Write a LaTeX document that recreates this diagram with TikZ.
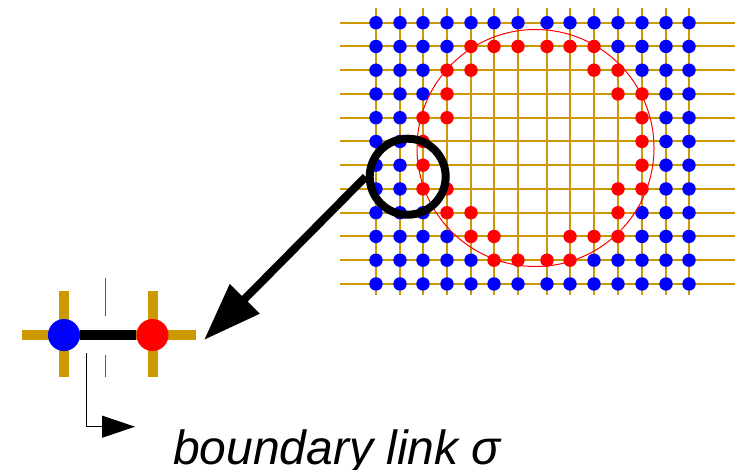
\documentclass[tikz,border=0pt]{standalone}
\usepackage{fontspec}
\setmainfont{Liberation Sans}
\usetikzlibrary{arrows.meta}

\definecolor{latgold}{RGB}{204,153,0}
\definecolor{cutgray}{RGB}{90,90,90}

\begin{document}
\begin{tikzpicture}[x=1pt,y=-1pt,
  gridline/.style={latgold, line width=2pt},
  bdot/.style={fill=blue},
  rdot/.style={fill=red},
  site/.style={circle, inner sep=0pt, minimum size=32pt}]

\useasboundingbox (0,0) rectangle (743,470);

% Lattice
\def\colx{{376,400,423,447,471,494,518,547,570,594,618,642,666,689}}
\foreach \i in {0,...,13} {
  \pgfmathsetmacro\xx{\colx[\i]}
  \draw[gridline] (\xx,8) -- (\xx,295);
}
\foreach \j in {0,...,11}
  \draw[gridline] (340,{22.7+23.75*\j}) -- (735,{22.7+23.75*\j});

% Sites outside the loop (top and bottom rows)
\foreach \j in {0,11}
  \foreach \i in {0,...,13} {
    \pgfmathsetmacro\xx{\colx[\i]}
    \fill[bdot] (\xx,{22.7+23.75*\j}) circle[radius=6.7];
  }

% Remaining rows: blue outside, red on the boundary
\foreach \j/\bl/\rd in {
  1/{0,1,2,3,10,11,12,13}/{4,5,6,7,8,9},
  2/{0,1,2,11,12,13}/{3,4,9,10},
  3/{0,1,2,12,13}/{3,10,11},
  4/{0,1,12,13}/{2,3,11},
  5/{0,1,12,13}/{2,11},
  6/{0,1,12,13}/{2,11},
  7/{0,1,12,13}/{2,3,10,11},
  8/{0,1,2,11,12,13}/{3,4,10},
  9/{0,1,2,3,11,12,13}/{4,5,8,9,10},
  10/{0,1,2,3,4,9,10,11,12,13}/{5,6,7,8}} {
  \foreach \i in \bl {
    \pgfmathsetmacro\xx{\colx[\i]}
    \fill[bdot] (\xx,{22.7+23.75*\j}) circle[radius=6.7];
  }
  \foreach \i in \rd {
    \pgfmathsetmacro\xx{\colx[\i]}
    \fill[rdot] (\xx,{22.7+23.75*\j}) circle[radius=6.7];
  }
}

% Loop
\draw[red, line width=1pt] (535.5,148) circle[radius=118.5];

% Magnifier and pointer
\node[draw, circle, line width=8pt, minimum size=76pt, inner sep=0pt] (lens) at (407.7,176.7) {};
\coordinate (zoomtip) at (204,340);
\draw[line width=8pt, -{Triangle[length=58pt,width=40pt]}] (lens.west) -- (zoomtip);

% Enlarged link
\coordinate (bc) at (64,335);
\coordinate (rc) at (152.5,335);
\draw[latgold, line width=10pt] (21.7,335) -- (195.7,335);
\draw[latgold, line width=10pt] (bc) ++(0,-44.3) -- ++(0,86.6);
\draw[latgold, line width=10pt] (rc) ++(0,-44.3) -- ++(0,86.6);
\node[site, fill=blue] (bsite) at (bc) {};
\node[site, fill=red] (rsite) at (rc) {};
\draw[line width=10pt] (bsite) -- (rsite);

% Cut
\draw[cutgray, line width=1.5pt] (105.3,278.3) -- (105.3,316) (105.3,355) -- (105.3,377.3);

% Label
\coordinate (ptr) at (86.7,353.3);
\coordinate (ptrtip) at (135,426.7);
\draw[line width=1pt, -{Triangle[length=33pt,width=22pt]}] (ptr) |- (ptrtip);
\node[anchor=base west, inner sep=0pt, font=\fontsize{48pt}{58pt}\selectfont\itshape] (caption) at (173,464) {boundary link σ};

\end{tikzpicture}
\end{document}
